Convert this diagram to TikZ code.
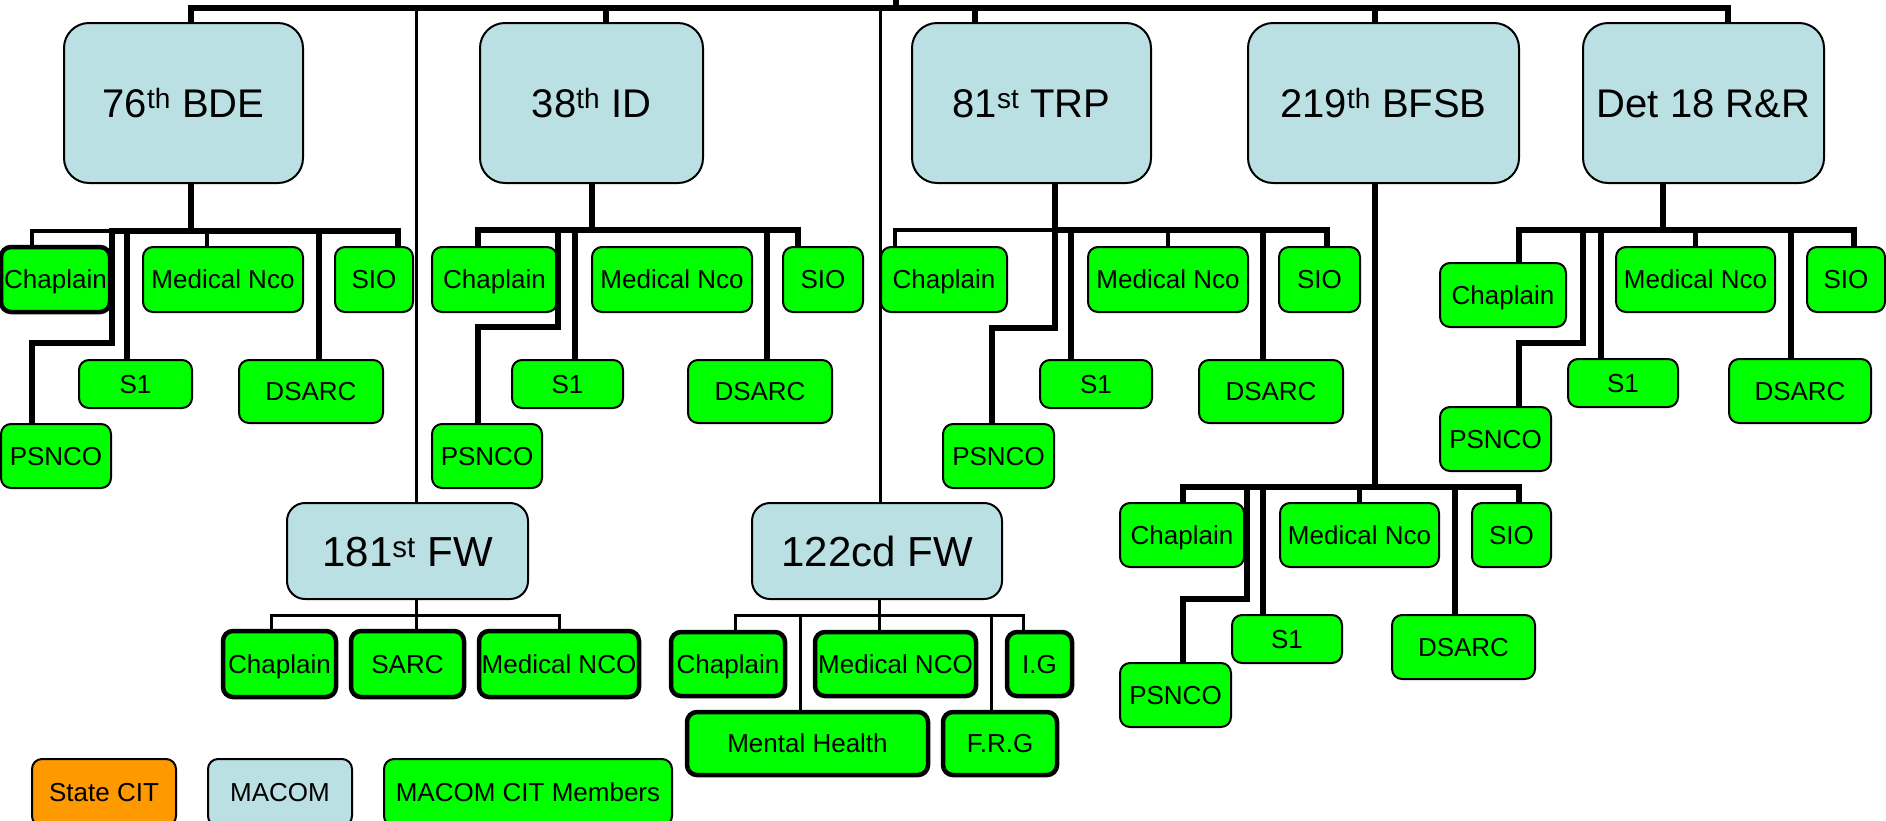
\documentclass[tikz,border=0pt]{standalone}
\usepackage{fontspec}
\setmainfont{Liberation Sans}
\definecolor{macomblue}{RGB}{187,224,227}
\definecolor{citgreen}{RGB}{0,255,0}
\definecolor{citorange}{RGB}{255,153,0}
\tikzset{
  boxsize/.style 2 args={minimum width=#1, minimum height=#2},
  macom/.style={draw, line width=2pt, fill=macomblue, rounded corners=25pt,
    inner sep=0pt, text height=28.8pt, text depth=0pt,
    font=\fontsize{40}{48}\selectfont},
  fwbox/.style={macom, rounded corners=18pt, text height=30.2pt,
    font=\fontsize{42}{50}\selectfont},
  member/.style={draw, line width=2pt, fill=citgreen, rounded corners=10pt,
    inner sep=0pt, text height=18.7pt, text depth=0pt,
    font=\fontsize{26}{31}\selectfont},
  boldbox/.style={line width=4.5pt},
  bigline/.style={line width=6.5pt},
  midline/.style={line width=4.5pt},
  thinline/.style={line width=3pt}
}
\begin{document}
\begin{tikzpicture}[x=1pt, y=-1pt]
  \useasboundingbox (0,0) rectangle (1886,820);

  % MACOM boxes
  \node[macom, boxsize={239}{160}] (bde76) at (183.5,103) {76\textsuperscript{th} BDE};
  \node[macom, boxsize={223}{160}] (id38) at (591.5,103) {38\textsuperscript{th} ID};
  \node[macom, boxsize={239}{160}] (trp81) at (1031.5,103) {81\textsuperscript{st} TRP};
  \node[macom, boxsize={271}{160}] (bfsb219) at (1383.5,103) {219\textsuperscript{th} BFSB};
  \node[macom, boxsize={241}{160}] (det18) at (1703.5,103) {Det 18 R\&R};
  \node[fwbox, boxsize={241}{96}] (fw181) at (407.5,551) {181\textsuperscript{st} FW};
  \node[fwbox, boxsize={250}{96}] (fw122) at (877,551) {122cd FW};

  % Top bar
  \coordinate (root) at (896,-5);
  \coordinate (top) at (896,8);
  \draw[bigline] (root) -- (top);
  \foreach \n/\dx in {bde76/7.5, id38/14.5, trp81/-56.5, bfsb219/-8.5, det18/24.5}
    \draw[bigline] (top) -| ([xshift=\dx]\n.north);
  \draw[thinline] (top) -| ([xshift=8.5]fw181.north);
  \draw[thinline] (top) -| ([xshift=3]fw122.north);

  % 76th BDE
  \node[member, boldbox, boxsize={109}{65}] (bde76-chap) at (55.5,279.5) {Chaplain};
  \node[member, boxsize={160}{65}] (bde76-med) at (223,279.5) {Medical Nco};
  \node[member, boxsize={78}{65}] (bde76-sio) at (374,279.5) {SIO};
  \node[member, boxsize={113}{48}] (bde76-s1) at (135.5,384) {S1};
  \node[member, boxsize={144}{63}] (bde76-dsarc) at (311,391.5) {DSARC};
  \node[member, boxsize={110}{64}] (bde76-psnco) at (56,456) {PSNCO};
  \coordinate (j76) at (191,231);
  \draw[bigline] ([xshift=7.5]bde76.south) -- (j76);
  \draw[midline] (j76) -| ([xshift=-23.5]bde76-chap.north);
  \draw[midline] (j76) -| ([xshift=-16]bde76-med.north);
  \draw[bigline] (j76) -| (112,343) -| ([xshift=-24]bde76-psnco.north);
  \foreach \n/\dx in {s1/-8.5, dsarc/8, sio/24}
    \draw[bigline] (j76) -| ([xshift=\dx]bde76-\n.north);

  % 38th ID
  \node[member, boxsize={125}{65}] (id38-chap) at (494.5,279.5) {Chaplain};
  \node[member, boxsize={160}{65}] (id38-med) at (672,279.5) {Medical Nco};
  \node[member, boxsize={80}{65}] (id38-sio) at (823,279.5) {SIO};
  \node[member, boxsize={111}{48}] (id38-s1) at (567.5,384) {S1};
  \node[member, boxsize={144}{63}] (id38-dsarc) at (760,391.5) {DSARC};
  \node[member, boxsize={110}{64}] (id38-psnco) at (487,456) {PSNCO};
  \coordinate (j38) at (592,230);
  \draw[bigline] ([xshift=0.5]id38.south) -- (j38);
  \draw[bigline] (j38) -| (558,327) -| ([xshift=-9]id38-psnco.north);
  \foreach \n/\dx in {chap/-16.5, s1/7.5, dsarc/7, sio/-25}
    \draw[bigline] (j38) -| ([xshift=\dx]id38-\n.north);

  % 81st TRP
  \node[member, boxsize={126}{65}] (trp81-chap) at (944,279.5) {Chaplain};
  \node[member, boxsize={160}{65}] (trp81-med) at (1168,279.5) {Medical Nco};
  \node[member, boxsize={81}{65}] (trp81-sio) at (1319.5,279.5) {SIO};
  \node[member, boxsize={112}{48}] (trp81-s1) at (1096,384) {S1};
  \node[member, boxsize={144}{63}] (trp81-dsarc) at (1271,391.5) {DSARC};
  \node[member, boxsize={111}{64}] (trp81-psnco) at (998.5,456) {PSNCO};
  \coordinate (j81) at (1055,230);
  \draw[bigline] ([xshift=23.5]trp81.south) -- (j81);
  \draw[midline] (j81) -| ([xshift=-49]trp81-chap.north);
  \draw[midline] (j81) -| (trp81-med.north);
  \draw[bigline] (j81) -- (1055,328) -| ([xshift=-6.5]trp81-psnco.north);
  \foreach \n/\dx in {s1/-25, dsarc/-8, sio/7.5}
    \draw[bigline] (j81) -| ([xshift=\dx]trp81-\n.north);

  % 219th BFSB
  \node[member, boxsize={124}{64}] (bfsb219-chap) at (1182,535) {Chaplain};
  \node[member, boxsize={159}{64}] (bfsb219-med) at (1359.5,535) {Medical Nco};
  \node[member, boxsize={79}{64}] (bfsb219-sio) at (1511.5,535) {SIO};
  \node[member, boxsize={110}{48}] (bfsb219-s1) at (1287,639) {S1};
  \node[member, boxsize={143}{64}] (bfsb219-dsarc) at (1463.5,647) {DSARC};
  \node[member, boxsize={111}{64}] (bfsb219-psnco) at (1175.5,695) {PSNCO};
  \coordinate (j219) at (1375,487);
  \draw[bigline] ([xshift=-8.5]bfsb219.south) -- (j219);
  \draw[midline] (j219) -| (bfsb219-med.north);
  \draw[bigline] (j219) -| (1247,599) -| ([xshift=7.5]bfsb219-psnco.north);
  \foreach \n/\dx in {chap/1, s1/-24, dsarc/-8.5, sio/7.5}
    \draw[bigline] (j219) -| ([xshift=\dx]bfsb219-\n.north);

  % Det 18 R&R
  \node[member, boxsize={126}{64}] (det18-chap) at (1503,295) {Chaplain};
  \node[member, boxsize={159}{65}] (det18-med) at (1695.5,279.5) {Medical Nco};
  \node[member, boxsize={78}{65}] (det18-sio) at (1846,279.5) {SIO};
  \node[member, boxsize={110}{48}] (det18-s1) at (1623,383) {S1};
  \node[member, boxsize={142}{64}] (det18-dsarc) at (1800,391) {DSARC};
  \node[member, boxsize={111}{64}] (det18-psnco) at (1495.5,439) {PSNCO};
  \coordinate (j18) at (1663,230);
  \draw[bigline] ([xshift=-40.5]det18.south) -- (j18);
  \draw[midline] (j18) -| (det18-med.north);
  \draw[bigline] (j18) -| (1583,343) -| ([xshift=23.5]det18-psnco.north);
  \foreach \n/\dx in {chap/16, s1/-22, dsarc/-9, sio/8}
    \draw[bigline] (j18) -| ([xshift=\dx]det18-\n.north);

  % 181st FW
  \node[member, boldbox, boxsize={113}{66}] (fw181-chap) at (279.5,664) {Chaplain};
  \node[member, boldbox, boxsize={113}{66}] (fw181-sarc) at (407.5,664) {SARC};
  \node[member, boldbox, boxsize={160}{66}] (fw181-med) at (559,664) {Medical NCO};
  \coordinate (j181) at (416,615);
  \draw[thinline] ([xshift=8.5]fw181.south) -- (j181);
  \foreach \n/\dx in {chap/-8.5, sarc/8.5, med/0}
    \draw[thinline] (j181) -| ([xshift=\dx]fw181-\n.north);

  % 122cd FW
  \node[member, boldbox, boxsize={114}{64}] (fw122-chap) at (728,664) {Chaplain};
  \node[member, boldbox, boxsize={161}{64}] (fw122-med) at (895.5,664) {Medical NCO};
  \node[member, boldbox, boxsize={65}{64}] (fw122-ig) at (1039.5,664) {I.G};
  \node[member, boldbox, boxsize={241}{63}] (fw122-mental) at (807.5,743.5) {Mental Health};
  \node[member, boldbox, boxsize={114}{63}] (fw122-frg) at (1000,743.5) {F.R.G};
  \coordinate (j122) at (879,615);
  \draw[thinline] ([xshift=2]fw122.south) -- (j122);
  \foreach \n/\dx in {chap/7, med/-16.5, ig/-16.5, mental/-7.5, frg/-9}
    \draw[thinline] (j122) -| ([xshift=\dx]fw122-\n.north);

  % Legend
  \node[member, fill=citorange, boxsize={144}{67}] (key-state) at (104,792.5) {State CIT};
  \node[member, fill=macomblue, boxsize={144}{67}] (key-macom) at (280,792.5) {MACOM};
  \node[member, boxsize={288}{67}] (key-members) at (528,792.5) {MACOM CIT Members};
\end{tikzpicture}
\end{document}
